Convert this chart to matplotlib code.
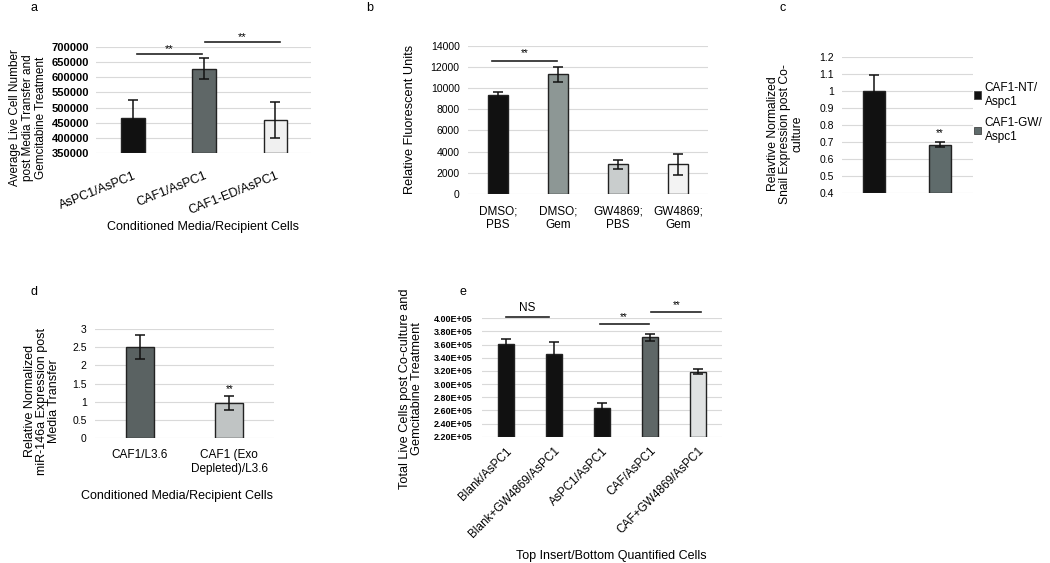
import matplotlib
matplotlib.use("Agg")
import matplotlib.pyplot as plt
from matplotlib.patches import Patch
import numpy as np

plt.rcParams['font.family'] = ['Liberation Sans', 'DejaVu Sans']

W, H = 1050, 563

# ---------------- data ----------------
a_cats = ["AsPC1/AsPC1", "CAF1/AsPC1", "CAF1-ED/AsPC1"]
a_vals = [465000, 628000, 460000]
a_errs = [60000, 35000, 60000]
a_ticks = [350000, 400000, 450000, 500000, 550000, 600000, 650000, 700000]

b_cats = ["DMSO;\nPBS", "DMSO;\nGem", "GW4869;\nPBS", "GW4869;\nGem"]
b_vals = [9300, 11300, 2800, 2800]
b_errs = [300, 700, 400, 1000]
b_ticks = [0, 2000, 4000, 6000, 8000, 10000, 12000, 14000]

c_series = ["CAF1-NT/\nAspc1", "CAF1-GW/\nAspc1"]
c_vals = [1.0, 0.685]
c_errs = [0.09, 0.015]
c_ticks = [0.4, 0.5, 0.6, 0.7, 0.8, 0.9, 1.0, 1.1, 1.2]
c_ticklabels = ["0.4", "0.5", "0.6", "0.7", "0.8", "0.9", "1", "1.1", "1.2"]

d_cats = ["CAF1/L3.6", "CAF1 (Exo\nDepleted)/L3.6"]
d_vals = [2.5, 0.97]
d_errs = [0.33, 0.19]
d_ticks = [0, 0.5, 1, 1.5, 2, 2.5, 3]
d_ticklabels = ["0", "0.5", "1", "1.5", "2", "2.5", "3"]

e_cats = ["Blank/AsPC1", "Blank+GW4869/AsPC1", "AsPC1/AsPC1", "CAF/AsPC1", "CAF+GW4869/AsPC1"]
e_vals = [361000, 345000, 263000, 371000, 319000]
e_errs = [8000, 19000, 8000, 5000, 4000]
e_ticks = [220000, 240000, 260000, 280000, 300000, 320000, 340000, 360000, 380000, 400000]

# ---------------- styles ----------------
a_colors = ["#111111", "#5f6767", "#f0f0f0"]
b_colors = ["#111111", "#8d9795", "#c9cdcd", "#f3f3f3"]
c_colors = ["#111111", "#5f6b6b"]
d_colors = ["#5a6262", "#c0c4c4"]
e_colors = ["#111111", "#111111", "#111111", "#5f6767", "#e0e2e2"]
GRID = "#d9d9d9"

fig = plt.figure(figsize=(W / 100, H / 100), dpi=100)


def add_ax(x0, x1, ytop, ybot):
    return fig.add_axes([x0 / W, 1 - ybot / H, (x1 - x0) / W, (ybot - ytop) / H])


def style(ax):
    for s in ax.spines.values():
        s.set_visible(False)
    ax.tick_params(length=0)
    ax.set_axisbelow(True)
    ax.yaxis.grid(True, color=GRID, lw=0.8)


def ftext(x, y, s, **kw):
    fig.text(x / W, 1 - y / H, s, **kw)


def sig(ax, x0, x1, y, label, dy, fs=8):
    ax.plot([x0, x1], [y, y], color="#222222", lw=1.2, clip_on=False)
    ax.text((x0 + x1) / 2, y + dy, label, ha="center", va="bottom", fontsize=fs, clip_on=False)


ekw = dict(ecolor="#111111", elinewidth=1.1, capsize=3.5, capthick=1.1)

# ---------------- panel a ----------------
ax = add_ax(96, 311, 47, 153)
style(ax)
x = np.arange(len(a_vals))
ax.bar(x, np.array(a_vals) - 350000, bottom=350000, width=0.33, color=a_colors,
       edgecolor="#222222", lw=1.0, yerr=a_errs, error_kw=ekw)
ax.set_ylim(350000, 700000)
ax.set_xlim(-0.52, 2.5)
ax.set_yticks(a_ticks)
ax.set_yticklabels([str(t) for t in a_ticks], fontsize=8, fontweight="bold")
ax.set_xticks(x)
ax.set_xticklabels(a_cats, rotation=22, ha="right", rotation_mode="anchor", fontsize=9)
ax.tick_params(axis="x", pad=12)
ax.tick_params(axis="y", pad=5)
sig(ax, 0.05, 0.97, 676000, "**", 2000)
sig(ax, 1.01, 2.07, 715000, "**", 2000)
ftext(28, 118, "Average Live Cell Number\npost Media Transfer and\nGemcitabine Treatment",
      rotation=90, ha="center", va="center", fontsize=8.5, linespacing=1.08)
ftext(203, 227, "Conditioned Media/Recipient Cells", ha="center", va="center", fontsize=9)
ftext(34, 8, "a", ha="center", va="center", fontsize=9)

# ---------------- panel b ----------------
ax = add_ax(468, 708, 45.7, 194)
style(ax)
x = np.arange(len(b_vals))
ax.bar(x, b_vals, width=0.33, color=b_colors, edgecolor="#222222", lw=1.0,
       yerr=b_errs, error_kw=ekw)
ax.set_ylim(0, 14000)
ax.set_xlim(-0.5, 3.5)
ax.set_yticks(b_ticks)
ax.set_yticklabels([str(t) for t in b_ticks], fontsize=7.5)
ax.set_xticks(x)
ax.set_xticklabels(b_cats, fontsize=8.5, linespacing=1.2)
ax.tick_params(axis="x", pad=8)
ax.tick_params(axis="y", pad=6)
sig(ax, -0.1, 0.98, 12550, "**", 300, fs=7)
ftext(410, 119, "Relative Fluorescent Units", rotation=90, ha="center", va="center", fontsize=9.2)
ftext(370, 8, "b", ha="center", va="center", fontsize=9)

# ---------------- panel c ----------------
ax = add_ax(842, 973, 56.7, 193.3)
style(ax)
x = np.arange(len(c_vals))
ax.bar(x, np.array(c_vals) - 0.4, bottom=0.4, width=0.33, color=c_colors,
       edgecolor="#222222", lw=1.0, yerr=c_errs, error_kw=ekw)
ax.set_ylim(0.4, 1.2)
ax.set_xlim(-0.48, 1.5)
ax.set_yticks(c_ticks)
ax.set_yticklabels(c_ticklabels, fontsize=7.5)
ax.set_xticks([])
ax.tick_params(axis="y", pad=6)
ax.text(1, 0.725, "**", ha="center", va="bottom", fontsize=7)
handles = [Patch(facecolor=c, edgecolor="#444444", lw=0.6) for c in c_colors]
fig.legend(handles, c_series, loc="upper left", bbox_to_anchor=(974 / W, 1 - 82 / H),
           frameon=False, fontsize=8.5, handlelength=0.6, handleheight=0.6,
           handletextpad=0.3, labelspacing=0.8, borderaxespad=0, borderpad=0)
ftext(785, 134, "Relavtive Normalized\nSnail Expression post Co-\nculture",
      rotation=90, ha="center", va="center", fontsize=8.7, linespacing=1.05)
ftext(783, 8, "c", ha="center", va="center", fontsize=9)

# ---------------- panel d ----------------
ax = add_ax(95, 274, 329.3, 437.7)
style(ax)
x = np.arange(len(d_vals))
ax.bar(x, d_vals, width=0.31, color=d_colors, edgecolor="#222222", lw=1.0,
       yerr=d_errs, error_kw=ekw)
ax.set_ylim(0, 3)
ax.set_xlim(-0.5, 1.5)
ax.set_yticks(d_ticks)
ax.set_yticklabels(d_ticklabels, fontsize=7.5)
ax.set_xticks(x)
ax.set_xticklabels(d_cats, fontsize=8.5, linespacing=1.2)
ax.tick_params(axis="x", pad=8)
ax.tick_params(axis="y", pad=6)
ax.text(1, 1.22, "**", ha="center", va="bottom", fontsize=7)
ftext(42, 401, "Relative Normalized\nmiR-146a Expression post\nMedia Transfer",
      rotation=90, ha="center", va="center", fontsize=9, linespacing=1.05)
ftext(177, 496, "Conditioned Media/Recipient Cells", ha="center", va="center", fontsize=9)
ftext(34, 292, "d", ha="center", va="center", fontsize=9)

# ---------------- panel e ----------------
ax = add_ax(482, 722, 318.3, 436.7)
style(ax)
x = np.arange(len(e_vals))
ax.bar(x, np.array(e_vals) - 220000, bottom=220000, width=0.33, color=e_colors,
       edgecolor="#222222", lw=1.0, yerr=e_errs, error_kw=ekw)
ax.set_ylim(220000, 400000)
ax.set_xlim(-0.5, 4.5)
ax.set_yticks(e_ticks)
ax.set_yticklabels(["%.2fE+05" % (t / 1e5) for t in e_ticks], fontsize=6.5, fontweight="bold")
ax.set_xticks(x)
ax.set_xticklabels(e_cats, rotation=45, ha="right", rotation_mode="anchor", fontsize=8.5)
ax.tick_params(axis="x", pad=6)
ax.tick_params(axis="y", pad=7)
sig(ax, 0.01, 0.89, 402000, "NS", 5000, fs=8.5)
sig(ax, 1.95, 2.97, 392000, "**", 2000, fs=7)
sig(ax, 3.03, 4.07, 410000, "**", 2000, fs=7)
ftext(411, 389, "Total Live Cells post Co-culture and\nGemcitabine Treatment",
      rotation=90, ha="center", va="center", fontsize=9.2, linespacing=1.05)
ftext(611, 556, "Top Insert/Bottom Quantified Cells", ha="center", va="center", fontsize=9)
ftext(463, 292, "e", ha="center", va="center", fontsize=9)

fig.savefig("out.png", dpi=100, facecolor="white")
